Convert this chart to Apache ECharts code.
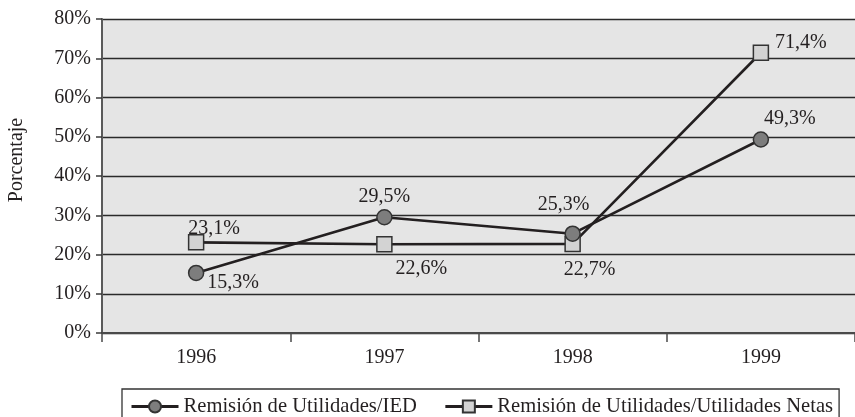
<!DOCTYPE html>
<html>
<head>
<meta charset="utf-8">
<script src="https://cdn.jsdelivr.net/npm/echarts@6/dist/echarts.min.js"></script>
<style>
html,body{margin:0;padding:0;background:#fff;}
#c{width:855px;height:417px;}
</style>
</head>
<body>
<div id="c"></div>
<script>
const categories = ['1996', '1997', '1998', '1999'];
const seriesNames = ['Remisión de Utilidades/IED', 'Remisión de Utilidades/Utilidades Netas'];
const iedValues = [15.3, 29.5, 25.3, 49.3];
const netasValues = [23.1, 22.6, 22.7, 71.4];
const yTicks = [0, 10, 20, 30, 40, 50, 60, 70, 80];

// label placement (style only)
const iedLabelPos = [[11, 10, 'left'], [0, -20, 'center'], [-9, -29, 'center'], [3, -21, 'left']];
const netasLabelPos = [[-8, -14, 'left'], [11, 24, 'left'], [-9, 26, 'left'], [14, -10, 'left']];

const FONT = '"Liberation Serif", "DejaVu Serif", serif';
const TXT = '#231f20';

function fmt(v) { return v.toFixed(1).replace('.', ',') + '%'; }
function build(values, pos) {
  return values.map((v, i) => ({
    value: v,
    label: {
      show: true, position: 'inside',
      offset: [pos[i][0], pos[i][1]], align: pos[i][2], verticalAlign: 'middle',
      formatter: fmt(v), fontFamily: FONT, fontSize: 20, color: TXT
    }
  }));
}

const chart = echarts.init(document.getElementById('c'), null, {renderer: 'canvas'});
chart.setOption({
  animation: false,
  backgroundColor: '#ffffff',
  grid: {
    left: 102, top: 19, width: 757, height: 314,
    show: true, backgroundColor: '#e5e5e5', borderWidth: 0, containLabel: false
  },
  xAxis: {
    type: 'category', data: categories, boundaryGap: true,
    axisLine: {show: true, lineStyle: {color: '#4a4a4a', width: 2}},
    axisTick: {show: true, length: 9, lineStyle: {color: '#4a4a4a', width: 1.5}},
    axisLabel: {margin: 15, fontFamily: FONT, fontSize: 20, color: TXT},
    splitLine: {show: false}
  },
  yAxis: {
    type: 'value', min: yTicks[0], max: yTicks[yTicks.length - 1], interval: 10,
    axisLine: {show: true, lineStyle: {color: '#5a5a5a', width: 2}},
    axisTick: {show: true, length: 6, lineStyle: {color: '#3a3a3a', width: 1.5}},
    axisLabel: {margin: 11, formatter: '{value}%', fontFamily: FONT, fontSize: 20, color: TXT},
    splitLine: {show: true, lineStyle: {color: '#2a2a2a', width: 1.3}}
  },
  legend: {
    data: seriesNames,
    left: 122, top: 389,
    orient: 'horizontal',
    padding: [7, 6, 12, 8],
    itemGap: 27, itemWidth: 47, itemHeight: 15,
    borderColor: '#333', borderWidth: 1.3,
    lineStyle: {width: 3, color: '#231f20'},
    textStyle: {fontFamily: FONT, fontSize: 20.6, color: TXT}
  },
  graphic: [{
    type: 'text', x: 17, y: 160, rotation: Math.PI / 2,
    style: {text: 'Porcentaje', fontFamily: FONT, fontSize: 20, fill: TXT, align: 'center', verticalAlign: 'middle'}
  }],
  series: [
    {
      name: seriesNames[1], type: 'line', data: build(netasValues, netasLabelPos),
      symbol: 'rect', symbolSize: 15,
      lineStyle: {color: '#231f20', width: 2.6},
      itemStyle: {color: '#d3d3d3', borderColor: '#333', borderWidth: 1.5},
      z: 3
    },
    {
      name: seriesNames[0], type: 'line', data: build(iedValues, iedLabelPos),
      symbol: 'circle', symbolSize: 15,
      lineStyle: {color: '#231f20', width: 2.6},
      itemStyle: {color: '#7d7d7d', borderColor: '#333', borderWidth: 1.5},
      z: 4
    }
  ]
});
</script>
</body>
</html>
